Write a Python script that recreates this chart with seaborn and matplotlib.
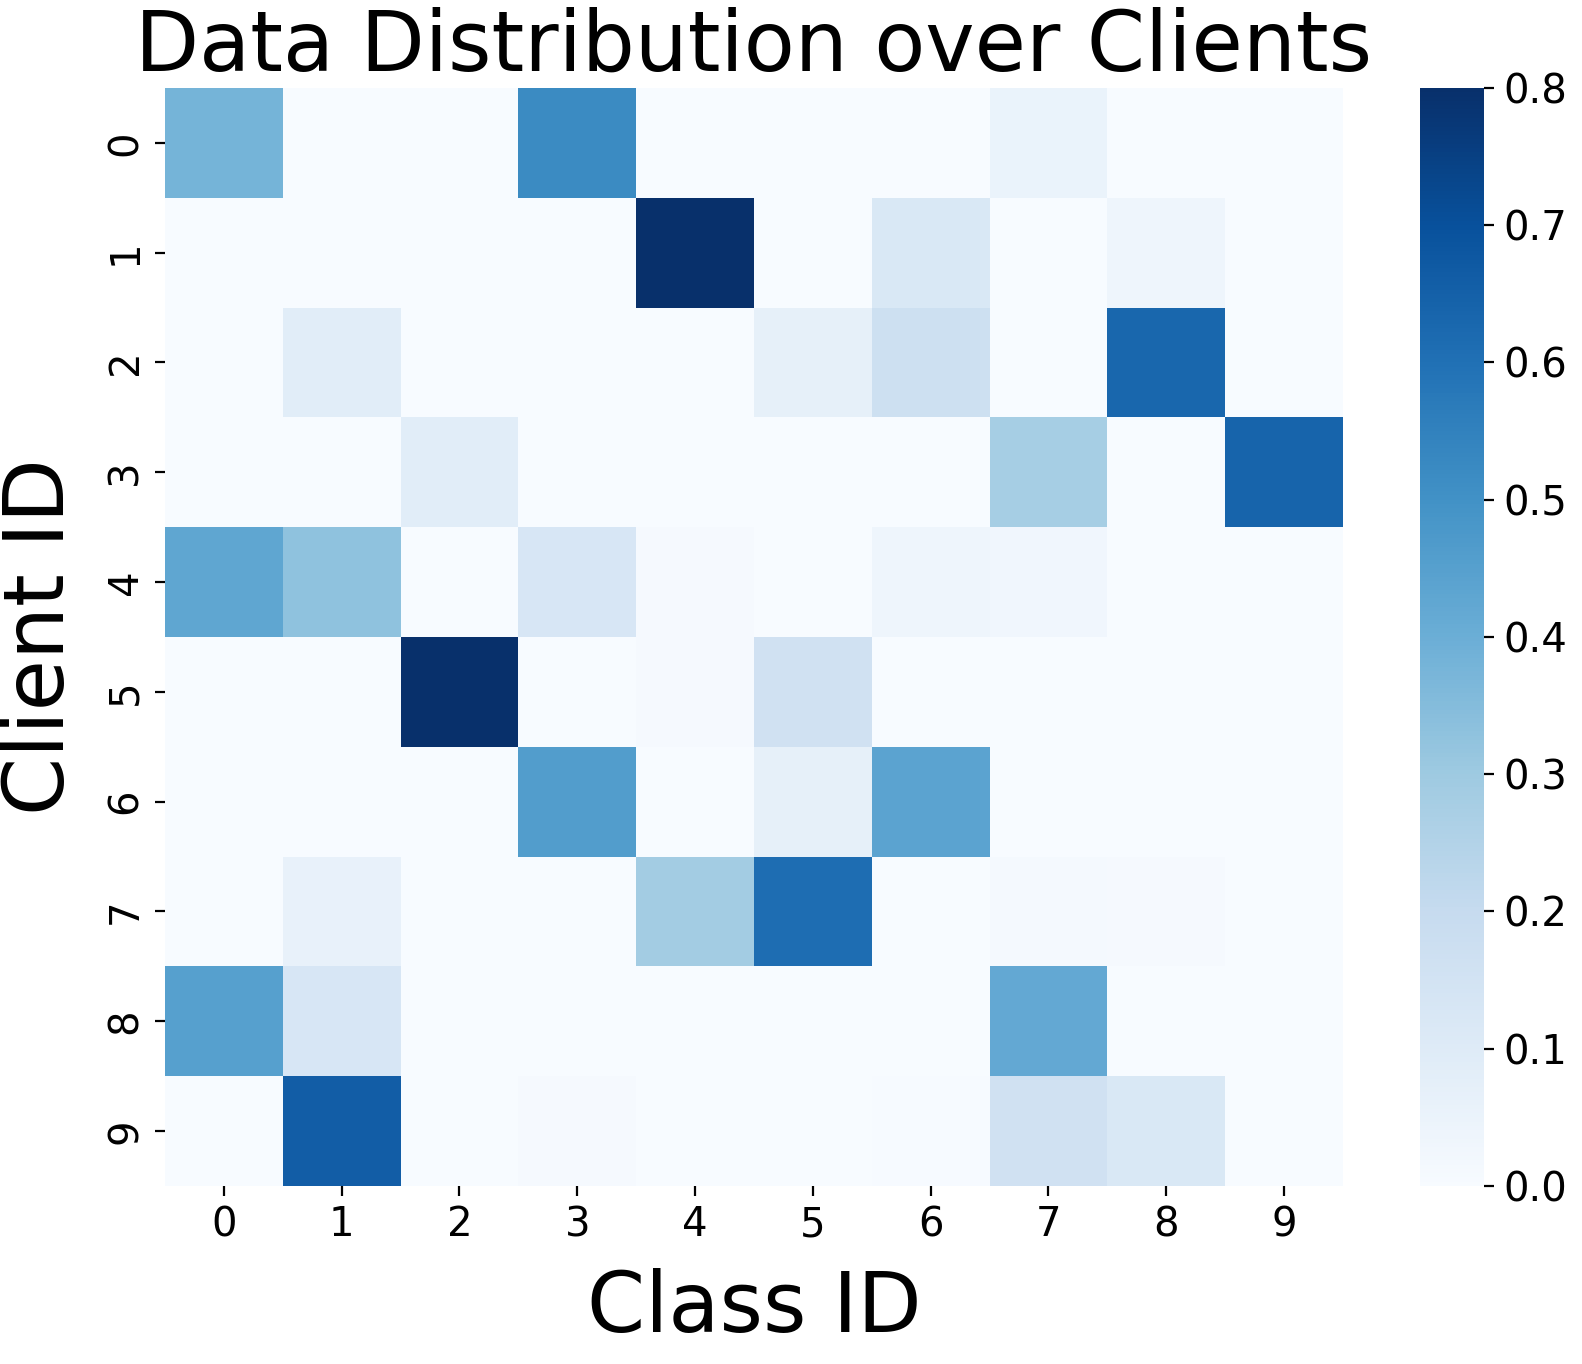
import numpy as np
import pandas as pd
import matplotlib
matplotlib.use('Agg')
import matplotlib.pyplot as plt
import seaborn as sns

## dados: fração de cada classe por cliente
class_ids = [0, 1, 2, 3, 4, 5, 6, 7, 8, 9]
client_ids = [0, 1, 2, 3, 4, 5, 6, 7, 8, 9]

client_0 = [0.38, 0.0, 0.0, 0.52, 0.0, 0.0, 0.0, 0.05, 0.0, 0.0]
client_1 = [0.0, 0.0, 0.0, 0.0, 0.80, 0.0, 0.12, 0.0, 0.04, 0.0]
client_2 = [0.0, 0.09, 0.0, 0.0, 0.0, 0.07, 0.17, 0.0, 0.63, 0.0]
client_3 = [0.0, 0.0, 0.09, 0.0, 0.0, 0.0, 0.0, 0.28, 0.0, 0.64]
client_4 = [0.43, 0.33, 0.0, 0.13, 0.01, 0.0, 0.04, 0.03, 0.0, 0.0]
client_5 = [0.0, 0.0, 0.80, 0.0, 0.01, 0.16, 0.0, 0.0, 0.0, 0.0]
client_6 = [0.0, 0.0, 0.0, 0.46, 0.0, 0.07, 0.44, 0.0, 0.0, 0.0]
client_7 = [0.0, 0.06, 0.0, 0.0, 0.29, 0.61, 0.0, 0.015, 0.01, 0.0]
client_8 = [0.45, 0.13, 0.0, 0.0, 0.0, 0.0, 0.0, 0.42, 0.0, 0.0]
client_9 = [0.003, 0.66, 0.0, 0.01, 0.0, 0.0, 0.005, 0.16, 0.12, 0.0]

matriz = pd.DataFrame([client_0, client_1, client_2, client_3, client_4,
                       client_5, client_6, client_7, client_8, client_9],
                      index=client_ids, columns=class_ids)

## figura
fig = plt.figure(figsize=(7.91, 6.82), dpi=200)
ax = fig.add_axes([0.1043, 0.1305, 0.7446, 0.805])
cax = fig.add_axes([0.8976, 0.1305, 0.0405, 0.805])

sns.heatmap(matriz, cmap='Blues', vmin=0.0, vmax=0.8, ax=ax, cbar_ax=cax)

ax.set_title('Data Distribution over Clients', fontsize=30)
ax.set_xlabel('Class ID', fontsize=30, labelpad=8)
ax.set_ylabel('Client ID', fontsize=30, labelpad=9)
ax.tick_params(labelsize=14.5)
plt.setp(ax.get_yticklabels(), rotation=90, va='center')
cax.tick_params(labelsize=14.5)
cax.set_yticks([0.0, 0.1, 0.2, 0.3, 0.4, 0.5, 0.6, 0.7, 0.8])

fig.savefig('out.png', dpi=200)
